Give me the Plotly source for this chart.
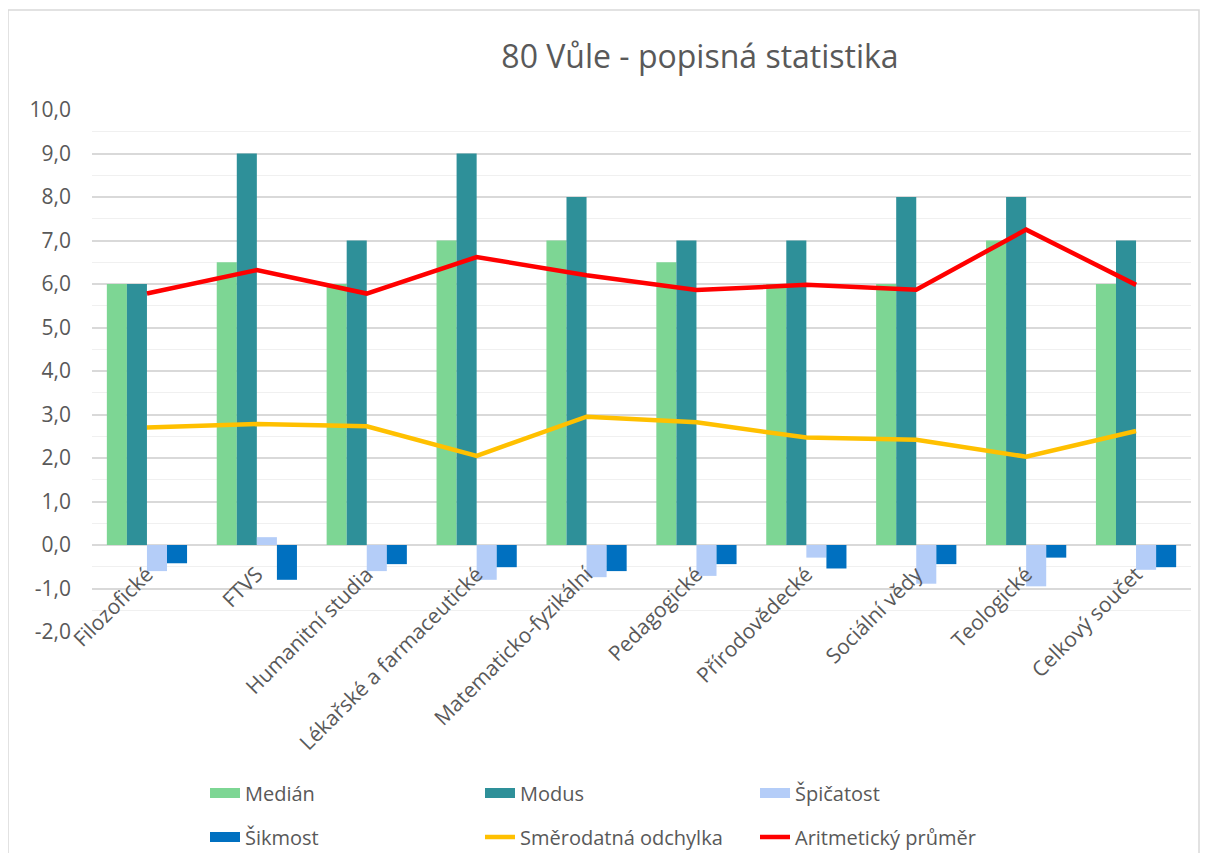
import plotly.graph_objects as go

# categories (faculties)
fakulty = ["Filozofické", "FTVS", "Humanitní studia", "Lékařské a farmaceutické",
           "Matematicko-fyzikální", "Pedagogické", "Přírodovědecké", "Sociální vědy",
           "Teologické", "Celkový součet"]

median = [6, 6.5, 6, 7, 7, 6.5, 6, 6, 7, 6]
modus = [6, 9, 7, 9, 8, 7, 7, 8, 8, 7]
spicatost = [-0.60, 0.18, -0.60, -0.80, -0.74, -0.71, -0.29, -0.89, -0.95, -0.57]
sikmost = [-0.42, -0.80, -0.44, -0.51, -0.60, -0.44, -0.54, -0.44, -0.29, -0.51]
smer_odch = [2.70, 2.78, 2.73, 2.05, 2.95, 2.82, 2.47, 2.42, 2.03, 2.62]
prumer = [5.78, 6.32, 5.78, 6.62, 6.20, 5.86, 5.98, 5.87, 7.25, 5.98]

y_ticks = [-2, -1, 0, 1, 2, 3, 4, 5, 6, 7, 8, 9, 10]
y_labels = [f"{v:.1f}".replace(".", ",") for v in y_ticks]  # excel style "-1,0"

FONT = "Open Sans"
TXT = "#595959"
W, H = 1193, 845

bar_series = [("Medián", median, "#7dd694", "legend"),
              ("Modus", modus, "#2e9099", "legend"),
              ("Špičatost", spicatost, "#b4cdf8", "legend"),
              ("Šikmost", sikmost, "#0070c0", "legend2")]

fig = go.Figure()

for name, vals, col, lg in bar_series:
    fig.add_trace(go.Bar(x=fakulty, y=vals, name=name, marker_color=col,
                         marker_line_width=0, showlegend=False))

# wide legend swatches for the bars (excel style)
for name, vals, col, lg in bar_series:
    fig.add_trace(go.Scatter(x=[None], y=[None], name=name, mode="lines",
                             line=dict(color=col, width=13), legend=lg))

# lines
fig.add_trace(go.Scatter(x=fakulty, y=smer_odch, name="Směrodatná odchylka", mode="lines",
                         line=dict(color="#ffc000", width=4.5), legend="legend2"))
fig.add_trace(go.Scatter(x=fakulty, y=prumer, name="Aritmetický průměr", mode="lines",
                         line=dict(color="#ff0000", width=4.5), legend="legend2"))

leg = dict(orientation="h", xref="container", yref="container", xanchor="left",
           yanchor="middle", entrywidth=230, entrywidthmode="pixels",
           font=dict(family=FONT, size=20, color=TXT), bgcolor="rgba(0,0,0,0)")

fig.update_layout(
    width=W, height=H,
    margin=dict(l=84, r=10, t=102, b=221, autoexpand=False),
    paper_bgcolor="white", plot_bgcolor="white",
    barmode="group", bargap=0.27, bargroupgap=0,
    font=dict(family=FONT, size=20, color=TXT),
    title=dict(text="80 Vůle - popisná statistika", xref="container", yref="container",
               x=692 / W, y=1 - 49 / H, xanchor="center", yanchor="middle",
               font=dict(family=FONT, size=32, color=TXT)),
    legend=dict(leg, x=197 / W, y=1 - 785 / H),
    legend2=dict(leg, x=197 / W, y=1 - 829 / H),
    showlegend=True,
)

fig.update_yaxes(range=[-2, 10], tickvals=y_ticks, ticktext=y_labels,
                 showgrid=True, gridcolor="#d9d9d9", gridwidth=1.5,
                 zeroline=False, showline=False, ticks="",
                 ticklabelstandoff=20,
                 tickfont=dict(family=FONT, size=21, color=TXT),
                 minor=dict(dtick=0.5, showgrid=True, gridcolor="#f0f0f0", gridwidth=1.2))

fig.update_xaxes(anchor="free", position=2 / 12, tickangle=-45, showgrid=False,
                 showline=False, ticks="", zeroline=False, ticklabelstandoff=12,
                 tickfont=dict(family=FONT, size=21, color=TXT))

# chart border
fig.add_shape(type="rect", xref="paper", yref="paper",
              x0=-84 / 1099, x1=1 + 8 / 1099, y0=-0.5, y1=1 + 100 / 522,
              line=dict(color="#d9d9d9", width=1.5), layer="below")

fig.write_html("out.html")
